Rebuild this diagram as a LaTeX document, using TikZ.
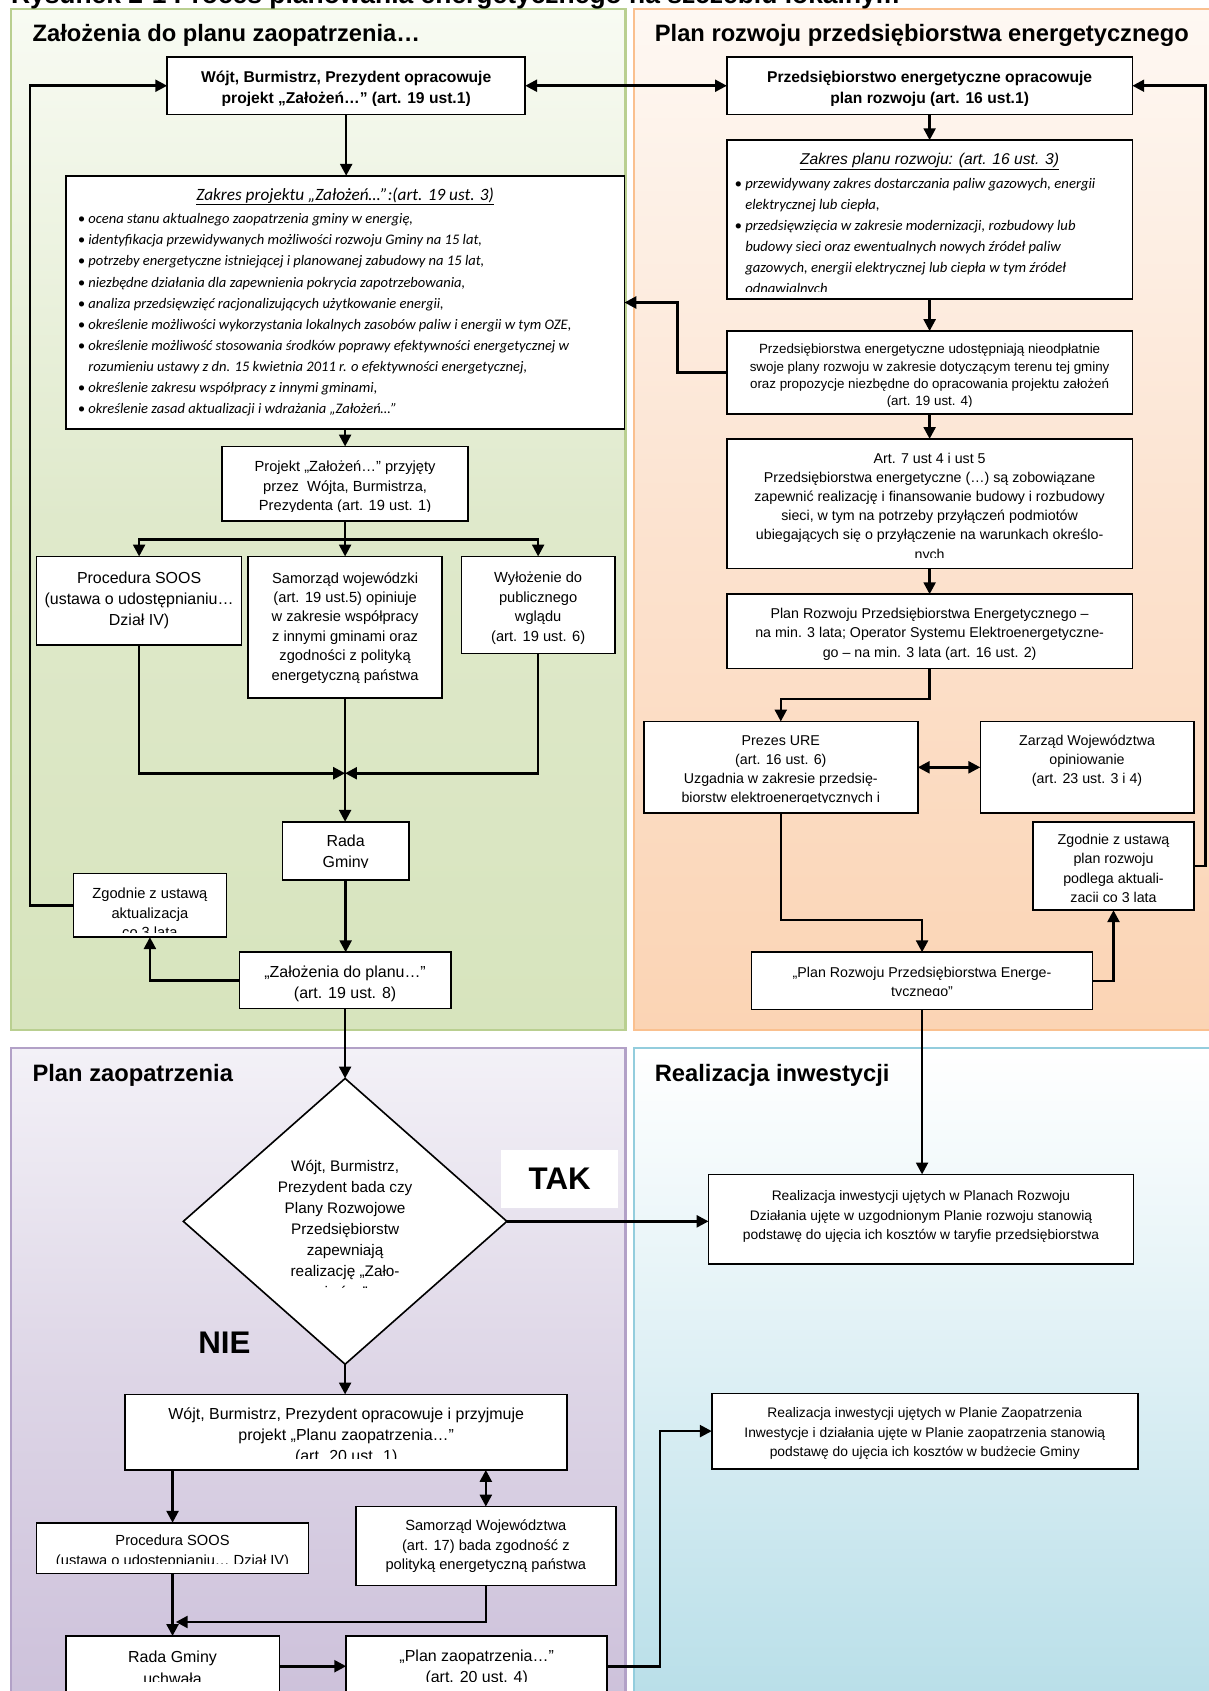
\documentclass[tikz,border=0pt]{standalone}
\usepackage{fontspec}
\setmainfont{Liberation Sans}
\newfontfamily\calfont{Carlito}
\usetikzlibrary{arrows.meta,shapes.geometric}

\definecolor{grBorder}{HTML}{B9CF90}
\definecolor{grTop}{HTML}{F8FBF3}
\definecolor{grMid}{HTML}{DFE9CB}
\definecolor{grBot}{HTML}{D7E4BD}
\definecolor{orBorder}{HTML}{FAC08F}
\definecolor{orTop}{HTML}{FEF8F3}
\definecolor{orMid}{HTML}{FCE3D0}
\definecolor{orBot}{HTML}{FBD4B4}
\definecolor{puBorder}{HTML}{B2A1C7}
\definecolor{puTop}{HTML}{F3F1F7}
\definecolor{puMid}{HTML}{DDD5E6}
\definecolor{puBot}{HTML}{CCC0DA}
\definecolor{blBorder}{HTML}{93CDDD}
\definecolor{blTop}{HTML}{FFFFFF}
\definecolor{blMid}{HTML}{DCEFF4}
\definecolor{blBot}{HTML}{B7DEE8}

\newcommand\fTitle{\fontsize{24.5}{28}\selectfont\bfseries}
\newcommand\fHead{\fontsize{22}{26}\selectfont\bfseries}
\newcommand\fBx{\fontsize{14.5}{19}\selectfont\bfseries}
\newcommand\fAa{\fontsize{14.8}{19.6}\selectfont}
\newcommand\fCc{\fontsize{13.6}{18}\selectfont}
\newcommand\fMm{\fontsize{13.2}{17.8}\selectfont}
\newcommand\fSs{\fontsize{12.4}{16}\selectfont}
\newcommand\fRr{\fontsize{12.8}{18.2}\selectfont}
\newcommand\fIi{\calfont\itshape\fontsize{13.5}{19.6}\selectfont}
\newcommand\fIj{\calfont\itshape\fontsize{13.6}{19.5}\selectfont}
\newcommand\fTk{\fontsize{29}{32}\selectfont\bfseries}

\tikzset{
  box/.style={draw=black, line width=1.5pt, fill=white, inner sep=0pt, outer sep=0pt},
  conn/.style={line width=2.4pt, line join=miter},
  arr/.style={conn, -{Triangle[length=11pt,width=11pt]}},
  dbl/.style={conn, {Triangle[length=11pt,width=11pt]}-{Triangle[length=11pt,width=11pt]}},
  lbl/.style={inner sep=0pt, align=center},
  head/.style={anchor=west, inner sep=0pt, font=\fHead},
}

% name x1 y1 x2 y2 ytext font text clipbottom
\newcommand\cbox[9]{%
  \node[box, minimum width={#4pt-#2pt}, minimum height={#5pt-#3pt}] (#1) at ({(#2+#4)/2},{(#3+#5)/2}) {};
  \begin{scope}
    \clip (#2+2,#3+2) rectangle (#4-2,#9);
    \node[lbl, font=#7] (#1-t) at ({(#2+#4)/2},#6) {#8};
  \end{scope}}

\begin{document}
\begin{tikzpicture}[x=1pt,y=-1pt]
\useasboundingbox (0,0) rectangle (1121,1568);
\clip (0,0) rectangle (1121,1568);

% panels
\path[draw=grBorder, line width=2pt, top color=grTop, bottom color=grBot, middle color=grMid] (10,8) rectangle (580,955);
\path[draw=orBorder, line width=2pt, top color=orTop, bottom color=orBot, middle color=orMid] (588,8) rectangle (1140,955);
\path[draw=puBorder, line width=2pt, top color=puTop, bottom color=puBot, middle color=puMid] (10,972) rectangle (580,1590);
\path[draw=blBorder, line width=2pt, top color=blTop, bottom color=blBot, middle color=blMid] (588,972) rectangle (1140,1590);

% title (cut at top, as in the source)
\node[anchor=base west, inner sep=0pt, font=\fTitle] (title) at (10,3) {Rysunek 2-1 Proces planowania energetycznego na szczeblu lokalnym};

% headings
\node[head] (h1) at (30,32.5) {Założenia do planu zaopatrzenia…};
\node[head] (h2) at (607,32.5) {Plan rozwoju przedsiębiorstwa energetycznego};
\node[head] (h3) at (30,997) {Plan zaopatrzenia};
\node[head] (h4) at (607,997) {Realizacja inwestycji};

% ---------- left column ----------
\cbox{A1}{155}{53}{487}{106}{82.5}{\fBx}{Wójt, Burmistrz, Prezydent opracowuje\\projekt „Założeń…” (art. 19 ust.1)}{97.5}

\node[box, minimum width=518pt, minimum height=235pt] (A2) at (320,280.5) {};
\node[lbl, font=\calfont\itshape\fontsize{16}{19}\selectfont] (A2-h) at (320,182) {\underline{Zakres projektu „Założeń…”:(art. 19 ust. 3)}};
\node[anchor=west, align=left, inner sep=0pt, font=\fIi] (A2-t) at (72,292) {%
• ocena stanu aktualnego zaopatrzenia gminy w energię,\\
• identyfikacja przewidywanych możliwości rozwoju Gminy na 15 lat,\\
• potrzeby energetyczne istniejącej i planowanej zabudowy na 15 lat,\\
• niezbędne działania dla zapewnienia pokrycia zapotrzebowania,\\
• analiza przedsięwzięć racjonalizujących użytkowanie energii,\\
• określenie możliwości wykorzystania lokalnych zasobów paliw i energii w tym OZE,\\
• określenie możliwość stosowania środków poprawy efektywności energetycznej w\\
\phantom{• }rozumieniu ustawy z dn. 15 kwietnia 2011 r. o efektywności energetycznej,\\
• określenie zakresu współpracy z innymi gminami,\\
• określenie zasad aktualizacji i wdrażania „Założeń…”};

\cbox{A3}{206}{414}{434}{483}{452}{\fCc}{Projekt „Założeń…” przyjęty\\przez\ \ Wójta, Burmistrza,\\Prezydenta (art. 19 ust. 1)}{474.5}
\cbox{A4}{34}{516}{224}{598}{556.5}{\fAa}{Procedura SOOS\\(ustawa o udostępnianiu…\\Dział IV)}{594}
\cbox{A5}{230}{516}{410}{647}{582}{\fCc}{Samorząd wojewódzki\\(art. 19 ust.5) opiniuje\\w zakresie współpracy\\z innymi gminami oraz\\zgodności z polityką\\energetyczną państwa}{643}
\cbox{A6}{428}{516}{570}{606}{564}{\fCc}{Wyłożenie do\\publicznego\\wglądu\\(art. 19 ust. 6)}{602}
\cbox{A7}{262}{762}{379}{816}{790.5}{\fAa}{Rada\\Gminy}{804.5}
\cbox{A8}{68}{810}{210}{869}{846.5}{\fCc}{Zgodnie z ustawą\\aktualizacja\\co 3 lata}{865}
\cbox{A9}{222}{883}{418}{935}{912.5}{\fAa}{„Założenia do planu…”\\(art. 19 ust. 8)}{931}

% ---------- right column ----------
\cbox{B1}{674}{53}{1050}{106}{82.5}{\fBx}{Przedsiębiorstwo energetyczne opracowuje\\plan rozwoju (art. 16 ust.1)}{97.5}

\node[box, minimum width=376pt, minimum height=147pt] (B2) at (862,203.5) {};
\node[lbl, font=\fontsize{14.5}{17}\selectfont\itshape] (B2-h) at (862,150) {\underline{Zakres planu rozwoju: (art. 16 ust. 3)}};
\begin{scope}
  \clip (676,132) rectangle (1048,270);
  \node[anchor=west, align=left, inner sep=0pt, font=\fIj] (B2-t) at (681,219.5) {%
  • przewidywany zakres dostarczania paliw gazowych, energii\\
  \phantom{• }elektrycznej lub ciepła,\\
  • przedsięwzięcia w zakresie modernizacji, rozbudowy lub\\
  \phantom{• }budowy sieci oraz ewentualnych nowych źródeł paliw\\
  \phantom{• }gazowych, energii elektrycznej lub ciepła w tym źródeł\\
  \phantom{• }odnawialnych};
\end{scope}

\cbox{B3}{674}{307}{1050}{384}{349}{\fSs}{Przedsiębiorstwa energetyczne udostępniają nieodpłatnie\\swoje plany rozwoju w zakresie dotyczącym terenu tej gminy\\oraz propozycje niezbędne do opracowania projektu założeń\\(art. 19 ust. 4)}{376.5}
\cbox{B4}{674}{407}{1050}{527}{470.5}{\fMm}{Art. 7 ust 4 i ust 5\\Przedsiębiorstwa energetyczne (…) są zobowiązane\\zapewnić realizację i finansowanie budowy i rozbudowy\\sieci, w tym na potrzeby przyłączeń podmiotów\\ubiegających się o przyłączenie na warunkach określo-\\nych}{516.5}
\cbox{B5}{674}{551}{1050}{620}{588}{\fMm}{Plan Rozwoju Przedsiębiorstwa Energetycznego –\\na min. 3 lata; Operator Systemu Elektroenergetyczne-\\go – na min. 3 lata (art. 16 ust. 2)}{616}
\cbox{B6}{597}{669}{851}{754}{714.5}{\fMm}{Prezes URE\\(art. 16 ust. 6)\\Uzgadnia w zakresie przedsię-\\biorstw elektroenergetycznych i}{744.5}
\cbox{B7}{909}{669}{1107}{754}{705.5}{\fMm}{Zarząd Województwa\\opiniowanie\\(art. 23 ust. 3 i 4)}{750}
\cbox{B8}{958}{762}{1107}{844}{806.5}{\fMm}{Zgodnie z ustawą\\plan rozwoju\\podlega aktuali-\\zacji co 3 lata}{835.5}
\cbox{B9}{697}{883}{1013}{936}{912}{\fMm}{„Plan Rozwoju Przedsiębiorstwa Energe-\\tycznego”}{923.5}

% ---------- bottom part ----------
\node[diamond, draw=black, line width=1.5pt, fill=white, minimum width=300pt, minimum height=265pt, inner sep=0pt, outer sep=0pt] (D) at (320,1132.5) {};
\begin{scope}
  \clip (200,1060) rectangle (440,1194);
  \node[lbl, font=\fontsize{14.2}{19.5}\selectfont] (D-t) at (320,1139.5) {Wójt, Burmistrz,\\Prezydent bada czy\\Plany Rozwojowe\\Przedsiębiorstw\\zapewniają\\realizację „Zało-\\żeń…”};
\end{scope}
\node[fill=white, inner sep=0pt, minimum width=108pt, minimum height=54pt, font=\fTk] (tak) at (519,1093) {TAK};
\node[inner sep=0pt, font=\fTk] (nie) at (208,1245) {NIE};

\cbox{C2}{657}{1089}{1051}{1172}{1128}{\fRr}{Realizacja inwestycji ujętych w Planach Rozwoju\\Działania ujęte w uzgodnionym Planie rozwoju stanowią\\podstawę do ujęcia ich kosztów w taryfie przedsiębiorstwa}{1168}
\cbox{C3}{660}{1292}{1055}{1362}{1329.5}{\fRr}{Realizacja inwestycji ujętych w Planie Zaopatrzenia\\Inwestycje i działania ujęte w Planie zaopatrzenia stanowią\\podstawę do ujęcia ich kosztów w budżecie Gminy}{1358}

\cbox{P1}{116}{1293}{526}{1363}{1331.5}{\fAa}{Wójt, Burmistrz, Prezydent opracowuje i przyjmuje\\projekt „Planu zaopatrzenia…”\\(art. 20 ust. 1)}{1352.5}
\cbox{P2}{34}{1412}{286}{1459}{1439}{\fCc}{Procedura SOOS\\(ustawa o udostępnianiu… Dział IV)}{1449.5}
\cbox{P3}{330}{1397}{571}{1470}{1434}{\fCc}{Samorząd Województwa\\(art. 17) bada zgodność z\\polityką energetyczną państwa}{1466}
\cbox{P4}{61}{1517}{259}{1575}{1546.5}{\fAa}{Rada Gminy\\uchwała}{1559.5}
\cbox{P5}{321}{1517}{563}{1575}{1546.5}{\fAa}{„Plan zaopatrzenia…”\\(art. 20 ust. 4)}{1559.5}

% ---------- connectors ----------
\draw[arr] (A1.south) -- (A1.south |- A2.north);
\draw[arr] (A3.north |- A2.south) -- (A3.north);
\coordinate (br) at (320,500);
\draw[conn] (A3.south) -- (br);
\draw[arr] (br) -| (A4.north);
\draw[arr] (br) -| (A6.north);
\draw[arr] (br) -- (A5.north);
\coordinate (mg) at (320,717);
\draw[conn] (A5.south) -- (mg);
\draw[arr] (A4.south) |- (mg);
\draw[arr] (A6.south) |- (mg);
\draw[arr] (mg) -- (mg |- A7.north);
\draw[arr] (A7.south) -- (A7.south |- A9.north);
\draw[arr] (A9.west) -| (A8.south);
\draw[arr] (A8.west) -- ++(-40,0) |- (A1.west);
\draw[dbl] (A1.east) -- (B1.west);

\draw[arr] (B1.south) -- (B2.north);
\draw[arr] (B2.south) -- (B3.north);
\draw[arr] (B3.west) -- ++(-46,0) |- (A2.east);
\draw[arr] (B3.south) -- (B4.north);
\draw[arr] (B4.south) -- (B5.north);
\draw[arr] (B5.south) -- ++(0,28) -| (B6.north);
\draw[dbl] (B6.east) -- (B7.west);
\draw[arr] (B6.south) -- ++(0,99) -| (B9.north);
\draw[arr] (B9.east) -| (B8.south);
\draw[arr] (B8.east) -- ++(11,0) |- (B1.east);
\draw[arr] (B9.south) -- (B9.south |- C2.north);

\draw[arr] (A9.south) -- (D.north);
\draw[arr] (D.east) -- (D.east -| C2.west);
\draw[arr] (D.south) -- (D.south |- P1.north);
\draw[arr] (P1.south -| P2.north) -- (P2.north);
\draw[dbl] (P1.south -| P3.north) -- (P3.north);
\draw[arr] (P2.south) -- (P4.north);
\coordinate (mj) at (163,1504);
\draw[arr] (P3.south) |- (mj);
\draw[arr] (P4.east |- 0,1545) -- (P5.west |- 0,1545);
\draw[arr] (P5.east |- 0,1545) -- ++(49,0) |- (C3.west);
\end{tikzpicture}
\end{document}
